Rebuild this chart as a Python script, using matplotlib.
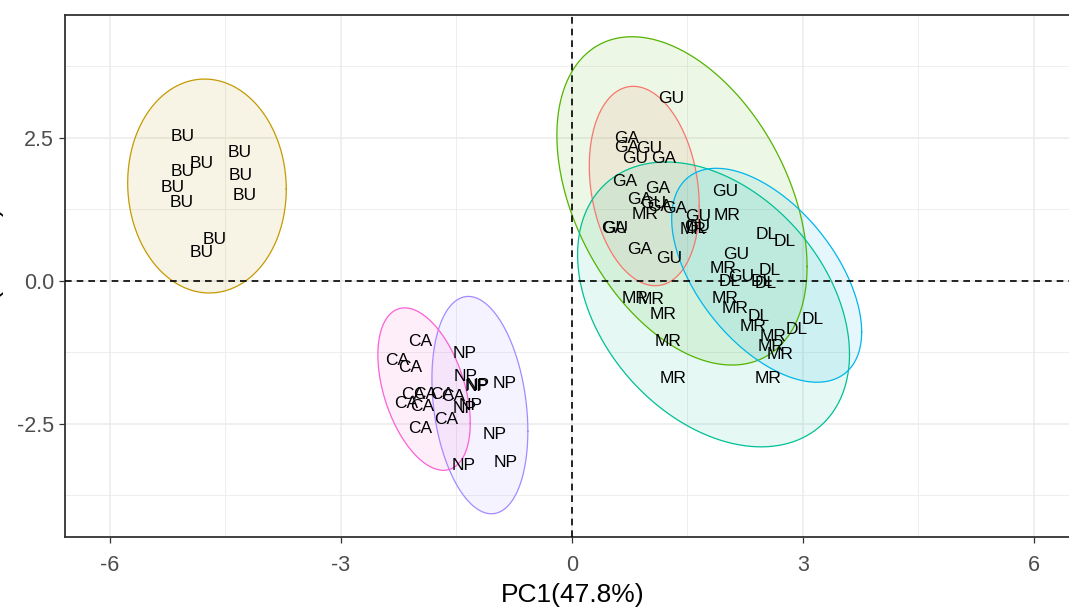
import numpy as np
import matplotlib
matplotlib.use('Agg')
import matplotlib.pyplot as plt

plt.rcParams['font.family'] = ['Liberation Sans', 'DejaVu Sans']

# group order as in the legend factor, with ggplot hue colours
groups = ['GA', 'BU', 'GU', 'MR', 'DL', 'NP', 'CA']
colors = ['#F8766D', '#C49A00', '#53B400', '#00C094', '#00B6EB', '#A58AFF', '#FB61D7']

# sample scores (PC1, PC2)
BU_x = [-5.06, -4.32, -4.81, -5.06, -4.30, -5.18, -4.25, -5.07, -4.64, -4.81]
BU_y = [2.53, 2.24, 2.05, 1.92, 1.84, 1.63, 1.50, 1.38, 0.73, 0.49]
CA_x = [-1.97, -2.27, -2.10, -2.06, -2.15, -1.91, -1.95, -1.69, -1.54, -1.63, -1.97]
CA_y = [-1.06, -1.39, -1.51, -1.99, -2.15, -1.99, -2.20, -1.99, -2.02, -2.43, -2.58]
NP_x = [-1.39, -1.38, -1.24, -1.22, -0.87, -1.32, -1.39, -1.00, -0.86, -1.41]
NP_y = [-1.26, -1.67, -1.84, -1.83, -1.80, -2.17, -2.23, -2.69, -3.18, -3.22]
GA_x = [0.71, 0.71, 1.19, 0.69, 1.12, 0.88, 1.14, 1.34, 0.54, 0.88]
GA_y = [2.49, 2.34, 2.14, 1.74, 1.62, 1.42, 1.30, 1.27, 0.92, 0.55]
GU_x = [1.29, 1.01, 0.82, 1.05, 1.64, 1.63, 0.56, 1.26, 1.99, 2.14, 2.20]
GU_y = [3.19, 2.32, 2.14, 1.35, 1.12, 0.95, 0.92, 0.40, 1.56, 0.47, 0.08]
MR_x = [0.95, 2.01, 1.96, 0.82, 1.03, 1.19, 1.99, 2.12, 2.35, 2.61, 2.59, 2.70, 1.25, 1.32, 2.55, 1.58]
MR_y = [1.17, 1.15, 0.22, -0.30, -0.32, -0.58, -0.30, -0.48, -0.80, -0.97, -1.15, -1.29, -1.06, -1.70, -1.70, 0.90]
DL_x = [1.62, 2.53, 2.77, 2.57, 2.05, 2.46, 2.52, 2.43, 3.13, 2.92]
DL_y = [0.92, 0.82, 0.69, 0.19, -0.01, -0.01, -0.04, -0.62, -0.68, -0.85]

points = {'BU': (BU_x, BU_y), 'CA': (CA_x, CA_y), 'NP': (NP_x, NP_y), 'GA': (GA_x, GA_y),
          'GU': (GU_x, GU_y), 'MR': (MR_x, MR_y), 'DL': (DL_x, DL_y)}

# confidence ellipses: centre, half x-extent, half y-extent, correlation
ell_cx = [0.94, -4.74, 1.43, 1.84, 2.53, -1.195, -1.92]
ell_cy = [1.66, 1.66, 1.40, -0.41, 0.10, -2.17, -1.89]
ell_sx = [0.714, 1.03, 1.625, 1.766, 1.234, 0.623, 0.60]
ell_sy = [1.743, 1.87, 2.87, 2.49, 1.87, 1.90, 1.42]
ell_rho = [-0.20, -0.03, -0.40, -0.35, -0.53, -0.24, -0.42]

xticks = [-6, -3, 0, 3, 6]
yticks = [-2.5, 0.0, 2.5]

fig = plt.figure(figsize=(10.69, 6.13), dpi=100)
ax = fig.add_axes([65 / 1069, 76 / 613, 1015 / 1069, 522 / 613])

t = np.linspace(0, 2 * np.pi, 300)
for i, g in enumerate(groups):
    d = np.arccos(ell_rho[i])
    ex = ell_cx[i] + ell_sx[i] * np.cos(t)
    ey = ell_cy[i] + ell_sy[i] * np.cos(t - d)
    ax.fill(ex, ey, color=colors[i], alpha=0.1, lw=0, zorder=2)
    ax.plot(ex, ey, color=colors[i], lw=0.9, zorder=3)

for g in groups:
    xs, ys = points[g]
    for x, y in zip(xs, ys):
        ax.text(x, y, g, fontsize=12.5, ha='center', va='center', color='black', zorder=5)

ax.axhline(0, color='black', lw=1.2, ls=(0, (4, 3)), zorder=4)
ax.axvline(0, color='black', lw=1.2, ls=(0, (4, 3)), zorder=4)

ax.set_xlim(-6.584, 6.6)
ax.set_ylim(-4.476, 4.65)
ax.set_xticks(xticks)
ax.set_xticklabels([str(v) for v in xticks])
ax.set_yticks(yticks)
ax.set_yticklabels(['%.1f' % v for v in yticks])
ax.set_xticks([-4.5, -1.5, 1.5, 4.5], minor=True)
ax.set_yticks([-3.75, -1.25, 1.25, 3.75], minor=True)
ax.grid(True, which='major', color='#EBEBEB', lw=1.1, zorder=0)
ax.grid(True, which='minor', color='#EBEBEB', lw=0.6, zorder=0)
ax.set_axisbelow(True)
ax.tick_params(which='major', length=4, width=0.9, color='#333333',
               labelsize=15.5, labelcolor='#4D4D4D', pad=4)
ax.tick_params(axis='x', which='major', pad=9)
ax.tick_params(which='minor', length=0)
for s in ax.spines.values():
    s.set_color('#333333')
    s.set_linewidth(1.3)

ax.set_xlabel('PC1(47.8%)', fontsize=19, color='black', labelpad=5)
fig.text(2 / 1069, 0.55, 'PC2(17.6%)', rotation=90, ha='right', va='center', fontsize=19)

fig.savefig('out.png', dpi=100)
